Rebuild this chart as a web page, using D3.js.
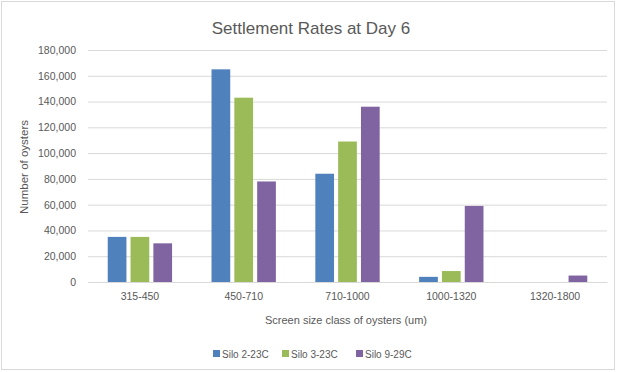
<!DOCTYPE html>
<html>
<head>
<meta charset="utf-8">
<script src="https://cdn.jsdelivr.net/npm/d3@7"></script>
<style>
  body { margin: 0; background: #fff; }
  svg text { font-family: "Liberation Sans", Arial, sans-serif; fill: #595959; }
</style>
</head>
<body>
<svg id="chart" width="621" height="372"></svg>
<script>
// size classes and settlement counts
const categories = ["315-450", "450-710", "710-1000", "1000-1320", "1320-1800"];
const seriesNames = ["Silo 2-23C", "Silo 3-23C", "Silo 9-29C"];
const silo2 = [35000, 165000, 84000, 4000, 0];
const silo3 = [35000, 143000, 109000, 8500, 0];
const silo9 = [30000, 78000, 136000, 59000, 5000];
const yTicks = [0, 20000, 40000, 60000, 80000, 100000, 120000, 140000, 160000, 180000];

const colors = ["#4F81BD", "#9BBB59", "#8064A2"];
const seriesValues = [silo2, silo3, silo9];

const margin = { top: 50, right: 14, bottom: 90, left: 88 };
const width = 621, height = 372;

const svg = d3.select("#chart");

// outer chart border
svg.append("rect")
  .attr("x", 1.5).attr("y", 1.5)
  .attr("width", 613).attr("height", 368)
  .attr("fill", "#fff")
  .attr("stroke", "#D9D9D9");

// title
svg.append("text")
  .attr("x", 311).attr("y", 34)
  .attr("text-anchor", "middle")
  .attr("font-size", "17px")
  .text("Settlement Rates at Day 6");

const x0 = d3.scaleBand()
  .domain(categories)
  .range([margin.left, width - margin.right])
  .padding(0);

const x1 = d3.scaleBand()
  .domain(seriesNames)
  .range([x0.bandwidth() * 0.19, x0.bandwidth() * 0.81])
  .paddingInner(0.18);

const y = d3.scaleLinear()
  .domain([0, 180000])
  .range([height - margin.bottom, margin.top]);

// gridlines + y labels
const yAxis = svg.append("g")
  .attr("transform", "translate(" + margin.left + ",0)")
  .call(d3.axisLeft(y).tickValues(yTicks).tickFormat(d3.format(","))
    .tickSize(-(x0.range()[1] - margin.left)).tickPadding(12));
yAxis.select(".domain").remove();
yAxis.selectAll(".tick line").attr("stroke", "#D9D9D9");
yAxis.selectAll(".tick text")
  .attr("font-size", "10.5px")
  .attr("fill", "#595959")
  .attr("font-family", "Liberation Sans, Arial, sans-serif");

// bars
categories.forEach((cat, i) => {
  const g = svg.append("g").attr("transform", "translate(" + x0(cat) + ",0)");
  seriesNames.forEach((s, j) => {
    const v = seriesValues[j][i];
    g.append("rect")
      .attr("x", x1(s))
      .attr("y", y(v))
      .attr("width", x1.bandwidth())
      .attr("height", y(0) - y(v))
      .attr("fill", colors[j]);
  });
});

// x axis
const xAxis = svg.append("g")
  .attr("transform", "translate(0," + y(0) + ")")
  .call(d3.axisBottom(x0).tickSize(0).tickPadding(11));
xAxis.select(".domain").attr("stroke", "#D9D9D9");
xAxis.selectAll(".tick text")
  .attr("font-size", "10.5px")
  .attr("fill", "#595959")
  .attr("font-family", "Liberation Sans, Arial, sans-serif");

// axis titles
svg.append("text")
  .attr("x", 346).attr("y", 324)
  .attr("text-anchor", "middle")
  .attr("font-size", "11px")
  .text("Screen size class of oysters (um)");

svg.append("text")
  .attr("transform", "translate(28,167) rotate(-90)")
  .attr("text-anchor", "middle")
  .attr("font-size", "11.5px")
  .text("Number of oysters");

// legend
const legendX = [213, 282, 356];
seriesNames.forEach((s, j) => {
  const lg = svg.append("g").attr("transform", "translate(" + legendX[j] + ",350)");
  lg.append("rect").attr("width", 7).attr("height", 7).attr("fill", colors[j]);
  lg.append("text").attr("x", 9).attr("y", 7.5)
    .attr("font-size", "10px")
    .text(s);
});
</script>
</body>
</html>
